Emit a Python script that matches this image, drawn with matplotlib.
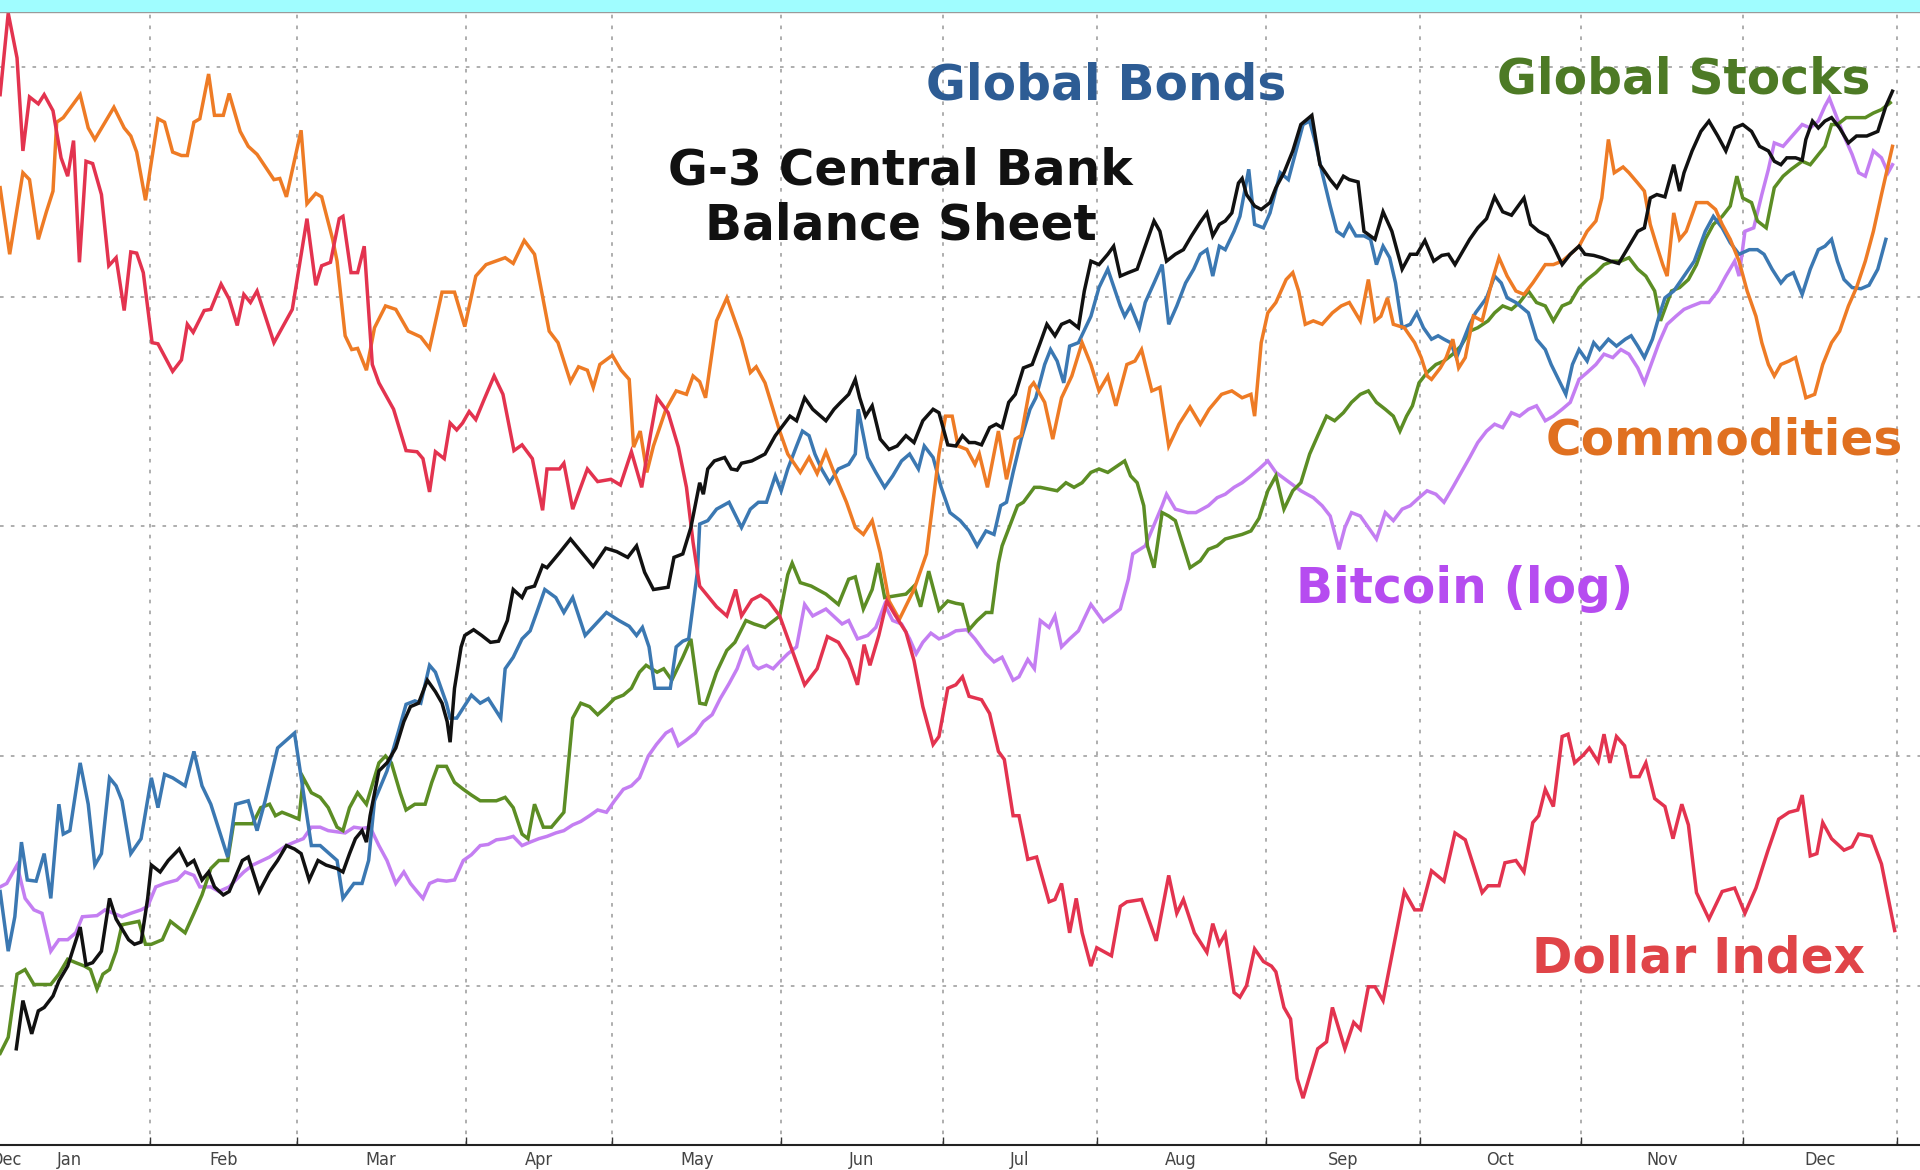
import numpy as np
import pandas as pd
import matplotlib
matplotlib.use('Agg')
import matplotlib.pyplot as plt
from matplotlib.patches import Rectangle

# x = trading day of 2017 (0 = 2 Jan), y = relative performance (grid every 20)
dollar = [(1.6,77.6),(2.7,84.7),(3.9,80.8),(4.7,72.7),(5.6,77.4),(6.8,76.8),(7.6,77.6),(8.8,76.2),(9.9,72.1),(10.8,70.5),(11.6,73.6),(12.4,63.0),(13.3,71.8),(14.2,71.6),(15.4,68.9),(16.4,62.7),(17.4,63.4),(18.5,58.8),(19.4,63.9),(20.2,63.8),(21.1,62.1),(22.3,56.0),(23.1,55.9),(25.1,53.5),(26.3,54.5),(27.1,57.6),(27.9,56.9),(29.4,58.8),(30.3,58.9),(31.7,61.1),(32.8,59.8),(33.9,57.5),(34.8,60.2),(35.7,59.5),(36.6,60.5),(38.9,56.0),(41.4,58.9),(43.4,66.8),(44.6,61.0),(45.4,62.7),(46.6,63.0),(47.8,66.8),(48.3,67.0),(49.4,62.1),(50.3,62.1),(51.2,64.4),(52.3,54.1),(53.2,52.5),(55.2,50.2),(56.9,46.6),(58.4,46.5),(59.2,45.9),(60.1,43.0),(60.9,46.5),(62.1,45.9),(62.9,49.0),(63.8,48.4),(64.6,49.0),(65.5,50.0),(66.4,49.3),(67.5,51.0),(68.9,53.1),(70.1,51.5),(71.6,46.6),(72.7,47.1),(74.1,45.9),(75.5,41.4),(76.1,45.0),(77.8,45.0),(78.4,45.5),(79.6,41.5),(81.6,45.0),(83.0,43.9),(84.8,44.1),(86.1,43.6),(87.6,46.5),(89.0,43.4),(90.2,48.0),(91.1,51.2),(92.6,49.9),(94.0,46.9),(95.1,43.4),(96.0,38.6),(96.9,34.8),(99.2,33.0),(100.6,32.2),(101.8,34.5),(102.6,32.2),(104.0,33.6),(105.2,34.0),(106.3,33.5),(107.8,32.2),(109.5,29.2),(111.2,26.2),(112.9,27.6),(114.3,30.4),(115.8,29.9),(117.2,28.4),(118.4,26.2),(119.3,29.7),(120.1,27.9),(121.3,30.5),(122.4,33.5),(123.5,32.3),(125.0,30.8),(126.1,28.3),(127.3,24.3),(128.7,21.0),(129.5,21.7),(130.7,25.9),(131.8,26.2),(132.7,26.9),(133.6,25.2),(135.3,24.9),(136.4,23.7),(137.6,20.4),(138.4,19.7),(139.6,14.8),(140.4,14.8),(141.6,11.0),(142.8,11.2),(144.5,7.3),(145.3,7.5),(146.2,8.9),(147.3,4.6),(148.2,7.6),(149.0,4.6),(150.2,1.7),(151.0,3.3),(153.0,2.6),(154.2,6.9),(155.1,7.3),(157.1,7.5),(159.1,3.9),(160.8,9.6),(161.9,6.3),(162.8,7.5),(164.3,4.6),(166.0,2.9),(166.8,5.4),(167.7,3.6),(168.5,4.5),(169.7,-0.6),(170.5,-1.0),(171.4,0.0),(172.5,3.2),(173.7,2.1),(174.8,1.7),(175.4,1.2),(176.5,-1.9),(177.4,-2.9),(178.3,-8.1),(179.1,-9.8),(181.1,-5.5),(182.3,-4.9),(183.1,-1.9),(184.8,-5.5),(186.0,-3.2),(186.9,-3.8),(188.0,-0.1),(188.9,-0.1),(190.0,-1.3),(191.4,3.3),(192.9,8.2),(194.3,6.6),(195.2,6.6),(196.6,10.0),(198.3,9.1),(199.8,13.3),(201.2,12.7),(203.5,8.1),(204.3,8.7),(205.8,8.7),(206.6,10.7),(208.1,10.9),(209.2,9.9),(210.4,14.2),(211.2,14.8),(212.1,17.1),(213.2,15.6),(214.4,21.7),(215.2,21.9),(216.1,19.4),(217.3,20.1),(218.1,20.7),(219.3,19.5),(220.1,21.9),(220.9,19.4),(221.8,21.7),(222.9,20.9),(223.8,18.2),(224.9,18.2),(225.8,19.4),(227.0,16.3),(228.4,15.6),(229.5,12.8),(230.7,15.8),(231.6,14.0),(232.7,8.1),(234.4,5.8),(236.2,8.2),(237.9,8.5),(239.3,6.3),(240.8,8.5),(242.4,11.7),(243.9,14.5),(245.3,15.1),(246.5,15.3),(247.1,16.6),(248.2,11.3),(249.1,11.5),(249.9,14.2),(251.1,12.8),(252.8,11.8),(253.9,12.1),(254.8,13.2),(256.5,13.0),(257.9,10.6),(259.7,4.8)]

commodities = [(1.6,69.5),(2.9,63.7),(4.7,70.8),(5.6,70.2),(6.8,65.0),(7.9,67.4),(8.8,69.2),(9.3,75.2),(10.2,75.6),(12.5,77.6),(13.6,74.7),(14.5,73.7),(17.1,76.5),(18.5,74.7),(19.4,74.0),(20.2,72.6),(21.4,68.4),(23.1,75.5),(24.0,75.2),(25.1,72.6),(26.3,72.3),(27.1,72.3),(28.0,75.2),(28.8,75.5),(30.0,79.4),(30.8,75.8),(32.0,75.8),(32.8,77.7),(34.3,74.4),(35.4,73.1),(36.6,72.4),(38.9,70.2),(39.7,70.3),(40.6,68.7),(42.6,74.5),(43.4,68.1),(44.6,69.0),(45.4,68.7),(46.9,65.0),(47.5,63.1),(48.6,56.6),(49.5,55.4),(50.3,55.5),(51.5,53.6),(52.6,57.3),(54.1,59.2),(55.5,58.9),(57.2,57.0),(58.9,56.5),(60.1,55.5),(61.8,60.4),(63.5,60.4),(64.9,57.4),(66.4,61.8),(67.8,62.8),(70.4,63.4),(71.5,62.9),(73.0,64.9),(74.4,63.7),(76.4,57.0),(77.6,56.0),(79.3,52.6),(80.4,53.9),(81.6,53.6),(82.4,52.1),(83.3,54.1),(85.0,54.9),(86.2,53.6),(87.3,52.8),(87.9,46.9),(88.8,48.3),(89.7,44.7),(90.6,47.0),(92.3,50.2),(93.7,51.8),(95.1,51.5),(96.0,53.1),(96.9,52.6),(97.7,51.2),(99.2,57.9),(100.6,59.9),(102.6,56.3),(103.8,53.4),(104.6,53.9),(105.8,52.5),(107.8,48.3),(108.9,46.3),(110.6,44.7),(111.8,46.0),(112.9,44.6),(114.1,46.5),(115.2,44.7),(116.9,42.1),(118.1,39.9),(119.2,39.3),(120.4,40.5),(121.5,37.7),(122.7,33.5),(124.1,31.9),(126.1,34.5),(127.8,37.6),(129.5,46.3),(130.4,49.6),(131.3,49.6),(132.1,47.0),(133.3,46.7),(134.4,45.4),(135.0,46.3),(136.1,43.4),(137.6,48.3),(138.7,44.1),(139.9,47.6),(140.7,47.9),(141.9,52.1),(142.4,52.5),(143.9,50.8),(145.0,47.6),(146.2,51.2),(147.6,53.1),(149.0,56.0),(150.2,54.1),(151.3,51.8),(152.5,53.1),(153.6,50.5),(155.1,54.1),(156.2,54.4),(157.1,55.4),(158.5,51.8),(159.6,52.1),(160.8,47.0),(162.2,48.9),(163.7,50.4),(165.1,48.9),(166.3,50.2),(168.0,51.5),(169.4,51.8),(170.8,51.2),(172.0,51.5),(172.5,49.6),(173.4,56.0),(174.3,58.6),(175.4,59.5),(176.8,61.5),(177.7,62.1),(178.5,60.5),(179.4,57.6),(180.5,57.9),(181.7,57.6),(183.1,58.6),(184.3,59.2),(185.4,59.5),(186.9,57.9),(188.0,61.5),(188.9,57.9),(189.7,58.3),(190.6,59.9),(191.4,57.6),(192.9,57.3),(194.3,56.0),(195.2,54.7),(196.0,53.1),(196.6,52.8),(197.8,53.8),(198.6,54.7),(199.5,56.3),(200.3,53.8),(201.2,54.7),(202.3,58.3),(203.5,57.9),(204.9,61.5),(205.8,63.4),(206.9,61.8),(208.1,60.5),(209.2,60.2),(210.4,61.2),(212.1,62.8),(213.2,62.8),(214.4,63.1),(215.5,63.7),(216.7,64.4),(217.8,65.7),(219.0,66.6),(219.8,68.6),(220.7,73.7),(221.5,70.8),(222.7,71.3),(223.5,70.8),(224.7,69.9),(225.6,69.2),(226.4,66.3),(227.3,64.4),(228.1,62.8),(228.7,61.8),(229.6,67.3),(230.4,65.0),(231.3,65.7),(232.7,68.2),(234.2,68.2),(235.3,67.6),(236.2,66.3),(237.3,65.0),(238.5,63.1),(239.6,60.5),(240.8,58.3),(241.6,56.0),(242.5,54.1),(243.3,53.1),(244.2,54.1),(245.3,54.4),(246.2,54.7),(247.1,52.5),(247.6,51.2),(248.8,51.5),(249.9,54.1),(251.1,56.0),(252.2,57.0),(253.4,59.2),(254.5,60.8),(255.7,63.1),(256.8,65.7),(257.9,68.9),(259.4,73.1)]

balance_sheet = [(3.8,-5.5),(4.7,-1.3),(5.9,-4.2),(6.8,-2.2),(7.6,-1.9),(8.8,-0.9),(9.6,0.4),(10.8,1.7),(12.5,5.1),(13.3,1.8),(14.2,2.0),(15.4,3.0),(16.5,7.6),(17.4,5.8),(19.1,4.0),(19.9,3.6),(20.8,3.8),(21.7,7.6),(22.2,10.5),(23.4,9.9),(24.5,10.9),(26.0,11.9),(27.1,10.5),(28.0,10.9),(29.1,9.2),(30.0,9.9),(30.8,8.6),(32.0,7.9),(32.8,8.2),(34.6,10.9),(35.4,11.2),(36.9,8.2),(38.3,9.9),(39.4,10.9),(40.6,12.2),(41.7,11.9),(42.6,11.5),(43.7,9.2),(44.9,10.9),(46.0,10.5),(47.5,10.2),(48.3,9.9),(49.2,11.5),(50.0,12.8),(50.9,13.5),(51.5,12.5),(52.0,14.8),(53.2,18.7),(54.3,19.4),(55.5,20.7),(56.6,23.0),(57.5,24.3),(58.6,24.6),(59.8,26.6),(60.9,25.6),(61.8,24.6),(62.5,23.0),(62.9,21.2),(63.5,25.9),(64.4,29.5),(64.9,30.5),(66.1,31.0),(67.2,30.5),(68.4,29.9),(69.5,30.0),(70.7,31.8),(71.5,34.5),(72.7,33.8),(73.3,34.6),(74.4,34.8),(75.5,36.6),(76.1,36.4),(77.8,37.7),(79.3,38.9),(82.4,36.5),(84.1,38.1),(85.6,37.8),(87.1,37.3),(88.3,38.3),(89.4,36.0),(90.6,34.5),(92.6,34.7),(93.4,37.3),(94.6,37.6),(95.7,39.9),(96.9,43.8),(97.4,42.8),(98.0,45.0),(98.9,45.7),(100.3,46.0),(101.2,45.0),(102.0,44.9),(102.6,45.5),(104.0,45.7),(105.8,46.3),(107.2,47.9),(109.2,49.6),(110.1,49.2),(111.2,51.2),(112.3,50.2),(114.1,49.2),(115.2,50.2),(116.1,50.8),(117.2,51.5),(118.1,52.8),(118.7,51.2),(119.5,49.6),(120.4,50.5),(121.5,47.6),(122.7,46.7),(123.8,47.0),(125.0,47.9),(126.1,47.3),(127.3,49.2),(128.7,50.2),(129.5,49.9),(130.7,47.1),(131.8,47.0),(132.7,47.9),(133.6,47.3),(134.4,47.3),(135.3,47.1),(136.4,48.6),(137.3,48.9),(138.1,48.6),(139.0,50.8),(139.9,51.5),(141.0,53.8),(142.2,54.1),(143.3,56.0),(144.2,57.6),(145.3,56.6),(146.2,57.6),(147.3,57.9),(148.5,57.3),(149.3,60.5),(150.2,63.1),(151.3,62.8),(152.5,63.7),(153.3,64.4),(154.2,61.8),(155.3,62.1),(156.5,62.4),(157.6,64.4),(158.8,66.6),(159.6,65.7),(160.5,63.1),(161.7,63.7),(162.8,64.1),(163.9,65.3),(165.1,66.5),(166.0,67.3),(166.8,65.3),(167.7,66.3),(168.5,66.6),(169.4,67.3),(170.3,69.9),(170.8,70.3),(171.4,68.9),(172.5,67.9),(173.4,67.6),(174.6,68.2),(175.4,69.5),(176.5,70.8),(177.7,72.7),(178.8,75.0),(180.3,75.8),(181.4,71.5),(182.8,70.2),(183.7,69.5),(184.6,70.5),(185.4,70.2),(186.6,70.0),(187.4,65.7),(188.9,65.0),(190.0,67.4),(191.2,65.7),(192.6,62.4),(193.7,63.7),(194.6,63.7),(195.7,64.9),(196.9,63.1),(198.0,63.6),(198.9,63.7),(199.8,62.8),(201.8,65.0),(202.9,66.0),(204.1,66.8),(205.2,68.7),(206.3,67.4),(207.5,67.1),(209.2,68.6),(210.1,66.3),(211.2,65.7),(212.4,65.3),(213.2,64.4),(214.4,62.8),(215.5,63.7),(216.7,64.4),(217.5,63.7),(218.7,63.6),(219.8,63.4),(221.0,63.1),(222.1,62.9),(223.5,64.4),(224.7,65.7),(225.6,66.0),(226.4,68.6),(227.3,68.9),(228.4,68.7),(229.6,71.5),(230.4,69.2),(231.0,70.8),(232.1,72.7),(233.3,74.4),(234.4,75.3),(235.6,74.0),(236.7,72.7),(237.9,74.7),(239.0,75.0),(240.2,74.4),(241.3,73.1),(242.5,72.7),(243.3,71.8),(244.2,71.5),(245.0,72.1),(246.2,72.1),(247.1,71.9),(247.6,73.7),(248.5,75.3),(249.3,74.7),(250.2,75.3),(251.1,75.6),(252.2,74.7),(253.4,73.4),(254.5,74.0),(255.9,74.0),(257.4,74.4),(258.5,76.6),(259.4,77.9)]

bonds = [(1.6,8.2),(2.7,3.0),(3.6,6.0),(4.5,12.5),(5.3,9.2),(6.5,9.1),(7.6,11.5),(8.5,7.6),(9.6,15.8),(10.2,13.2),(11.1,13.5),(12.5,19.4),(13.6,15.8),(14.5,10.5),(15.4,11.5),(16.5,18.1),(17.4,17.4),(18.2,16.1),(19.4,11.5),(20.8,12.8),(22.2,18.1),(23.1,15.5),(24.0,18.4),(25.1,18.1),(26.8,17.4),(28.0,20.4),(29.1,17.4),(30.3,15.8),(32.6,11.2),(33.7,15.8),(35.4,16.1),(36.6,13.5),(37.7,16.1),(39.4,20.7),(41.7,22.0),(43.4,14.8),(44.0,12.2),(45.2,12.2),(47.5,10.9),(48.3,7.6),(49.8,8.9),(50.9,8.9),(51.8,10.9),(52.6,16.1),(54.3,18.7),(55.8,22.0),(56.9,24.5),(58.1,24.8),(58.9,24.6),(60.1,27.9),(60.9,27.3),(62.4,24.6),(62.9,23.3),(63.8,23.3),(65.8,25.3),(67.0,24.6),(68.1,25.0),(69.8,23.3),(70.4,27.6),(71.5,28.6),(72.7,30.2),(73.8,30.9),(74.7,32.5),(75.8,34.5),(77.3,33.8),(78.4,32.5),(79.6,33.8),(81.3,30.5),(84.2,32.5),(85.9,31.8),(87.3,31.3),(88.3,30.5),(89.1,31.2),(90.0,29.5),(90.8,25.9),(92.9,25.9),(93.7,29.5),(94.6,30.0),(95.4,30.2),(96.6,36.1),(96.9,40.2),(98.0,40.5),(99.2,41.5),(100.9,42.1),(102.6,39.9),(103.8,41.5),(104.9,42.1),(106.0,42.1),(107.2,44.4),(108.0,43.1),(108.9,45.0),(110.1,47.0),(110.9,48.3),(111.8,47.9),(112.6,46.3),(113.5,45.0),(114.6,43.8),(115.8,45.0),(117.2,45.4),(118.1,46.3),(118.5,50.2),(119.8,46.0),(120.9,44.7),(122.1,43.4),(123.2,44.4),(124.4,45.7),(125.5,46.3),(126.7,45.0),(127.5,47.0),(128.7,46.0),(129.8,43.4),(131.0,41.2),(132.4,40.5),(133.6,39.6),(134.7,38.3),(135.9,39.6),(137.0,39.3),(137.9,41.8),(138.7,42.1),(139.6,44.7),(140.7,47.6),(141.9,50.2),(142.7,51.2),(143.9,54.1),(144.7,55.4),(145.6,54.4),(146.5,52.5),(147.3,55.7),(148.5,56.0),(150.2,58.3),(151.3,60.8),(152.5,62.4),(154.2,59.2),(154.8,58.3),(155.6,59.2),(156.8,57.3),(157.6,59.5),(158.8,61.2),(159.9,62.8),(160.8,57.6),(161.9,59.2),(163.1,61.2),(164.2,62.4),(165.1,63.7),(166.0,64.1),(166.8,61.8),(167.7,64.4),(168.5,64.1),(169.7,65.7),(170.5,67.0),(171.7,71.1),(172.5,66.3),(173.7,66.0),(174.6,67.3),(176.0,70.8),(177.1,70.2),(178.3,73.1),(179.1,75.0),(180.0,75.3),(180.8,73.4),(181.7,70.8),(182.8,67.9),(183.7,65.7),(184.6,65.3),(185.4,66.3),(186.3,65.3),(187.4,65.3),(188.3,65.0),(189.1,62.8),(190.0,64.4),(190.9,63.4),(191.7,61.2),(192.6,57.3),(193.7,57.6),(194.6,58.6),(195.5,57.3),(196.6,56.3),(197.5,56.6),(198.3,56.3),(199.2,56.0),(200.0,54.7),(201.8,57.6),(202.6,58.6),(204.1,59.9),(205.2,61.8),(206.1,61.2),(206.9,59.9),(208.1,59.5),(209.8,58.6),(210.9,56.3),(212.1,55.4),(212.9,54.1),(214.9,51.5),(215.8,54.1),(216.7,55.4),(217.8,54.4),(218.7,56.0),(219.5,55.4),(220.7,56.3),(221.8,55.7),(223.0,56.3),(223.8,56.6),(224.7,55.7),(225.6,54.7),(226.7,56.3),(227.6,58.3),(228.4,59.9),(229.6,60.5),(231.0,61.8),(232.4,63.1),(233.9,65.7),(235.0,67.0),(236.2,66.0),(237.3,64.7),(238.5,63.7),(239.9,64.1),(241.0,64.1),(241.9,63.7),(243.0,62.4),(244.2,61.2),(245.0,61.8),(245.9,62.1),(247.1,60.2),(248.2,62.4),(249.3,64.1),(250.2,64.4),(251.1,65.0),(251.9,63.1),(252.8,61.5),(253.9,60.8),(255.1,60.7),(256.2,61.0),(257.4,62.4),(258.5,65.0)]

stocks = [(1.6,-5.9),(2.7,-4.5),(3.9,1.0),(5.0,1.4),(6.2,0.1),(8.5,0.1),(9.6,1.0),(10.8,2.3),(11.9,2.0),(13.1,1.7),(13.9,1.4),(14.8,-0.3),(15.6,1.0),(16.5,1.4),(17.4,3.0),(18.2,5.3),(20.5,5.6),(21.4,3.6),(22.2,3.6),(23.7,4.0),(24.8,5.6),(26.8,4.6),(28.0,6.3),(29.1,7.9),(30.3,10.2),(31.4,10.9),(32.6,10.9),(33.4,14.1),(34.8,14.1),(36.0,14.1),(37.1,15.5),(38.3,15.8),(39.1,14.8),(40.0,15.1),(41.2,14.8),(42.3,14.5),(42.9,18.1),(44.0,16.8),(45.2,16.4),(46.3,15.5),(47.5,13.8),(48.3,13.5),(49.2,15.5),(50.3,16.8),(51.5,15.8),(53.2,19.4),(54.1,20.0),(54.9,19.4),(56.1,16.8),(56.9,15.3),(58.1,15.8),(59.5,15.8),(60.4,17.7),(61.2,19.1),(62.4,19.1),(63.5,17.7),(64.7,17.1),(65.8,16.6),(67.0,16.1),(69.2,16.1),(70.4,16.4),(71.5,15.5),(72.7,13.2),(73.5,12.8),(74.4,15.8),(75.6,13.8),(76.7,13.8),(78.4,15.1),(79.6,23.3),(80.7,24.6),(81.9,24.3),(83.0,23.6),(84.2,24.3),(85.3,25.0),(86.5,25.3),(87.6,25.9),(88.7,27.3),(89.6,27.9),(91.1,27.3),(92.0,27.6),(93.1,26.6),(94.6,28.6),(95.7,30.2),(96.9,24.6),(97.7,24.5),(99.2,27.3),(100.6,29.2),(101.7,29.9),(103.2,31.8),(104.3,31.5),(105.8,31.2),(107.8,32.2),(108.9,35.8),(109.5,36.8),(110.6,35.1),(112.1,34.8),(114.1,34.1),(115.8,33.2),(117.2,35.4),(118.1,35.6),(119.2,32.8),(120.4,34.5),(121.2,36.8),(122.1,33.8),(125.0,34.1),(126.1,34.8),(127.0,33.0),(128.1,36.1),(129.5,32.7),(130.7,33.5),(131.8,33.3),(132.7,33.2),(133.6,31.0),(134.7,31.8),(135.9,32.5),(136.7,32.5),(137.6,36.8),(138.1,38.3),(140.2,41.8),(141.0,42.1),(142.5,43.4),(143.3,43.4),(145.6,43.1),(146.8,43.8),(147.9,43.4),(149.0,43.8),(150.2,44.7),(151.3,45.0),(152.5,44.7),(154.8,45.7),(155.6,44.4),(156.5,43.8),(157.4,41.8),(157.9,38.3),(158.8,36.4),(159.9,41.2),(160.8,40.9),(161.7,40.5),(163.7,36.4),(165.1,37.0),(166.2,38.0),(167.4,38.3),(168.5,38.9),(170.8,39.3),(172.0,39.6),(173.1,40.7),(174.3,43.1),(175.4,44.4),(176.5,41.5),(177.7,43.1),(178.8,43.8),(180.0,46.3),(181.1,47.9),(182.3,49.6),(183.4,49.2),(184.6,49.9),(185.7,50.8),(186.9,51.5),(188.0,51.8),(189.1,50.8),(190.3,50.2),(191.4,49.6),(192.3,48.3),(193.2,49.6),(194.0,50.5),(194.9,52.5),(196.0,53.4),(197.2,54.1),(198.3,54.4),(199.5,55.0),(200.6,55.7),(201.8,57.0),(202.9,57.3),(204.3,57.9),(205.2,58.6),(206.3,59.2),(207.5,58.9),(208.6,59.5),(209.8,60.5),(210.9,59.5),(212.1,59.2),(213.2,57.9),(214.4,59.2),(215.5,59.5),(216.7,60.8),(217.8,61.5),(219.0,62.1),(220.1,62.8),(221.3,63.1),(222.4,63.1),(223.5,63.4),(224.7,62.4),(225.8,61.8),(227.0,60.5),(227.8,57.9),(229.3,60.5),(230.4,60.8),(231.6,61.5),(232.7,62.8),(233.9,65.0),(235.0,66.3),(236.2,67.0),(237.3,67.9),(238.2,70.5),(239.0,68.6),(240.2,68.2),(241.0,66.6),(242.2,66.0),(243.3,69.5),(244.5,70.5),(245.6,71.1),(247.1,71.8),(248.2,71.5),(250.2,73.1),(251.1,75.0),(251.9,75.0),(253.1,75.6),(254.2,75.6),(255.7,75.6),(256.8,76.0),(257.9,76.3),(259.1,76.9)]

bitcoin = [(1.6,8.6),(2.5,8.9),(3.9,10.5),(5.0,7.6),(6.2,6.6),(7.3,6.3),(8.5,3.0),(9.6,4.0),(10.8,4.0),(11.9,4.6),(12.8,6.0),(14.8,6.1),(15.9,6.6),(18.2,6.0),(19.4,6.3),(20.8,6.6),(21.7,6.9),(22.8,8.6),(24.0,8.9),(25.7,9.2),(26.8,9.9),(28.0,9.6),(28.8,8.6),(30.3,8.6),(31.4,8.2),(32.8,8.6),(33.7,9.2),(34.8,9.9),(36.0,10.5),(38.3,11.2),(40.6,12.2),(41.7,12.5),(42.9,12.8),(44.0,13.8),(45.2,13.8),(46.3,13.5),(48.6,13.3),(49.8,13.8),(50.9,13.7),(52.0,13.8),(53.2,12.2),(54.3,10.9),(55.5,8.9),(56.6,9.9),(57.5,8.9),(58.4,8.2),(59.2,7.6),(60.1,8.9),(61.2,9.2),(62.4,9.1),(63.5,9.2),(64.7,10.9),(65.8,11.4),(67.0,12.2),(68.1,12.3),(69.2,12.7),(70.4,12.8),(71.5,13.0),(72.7,12.2),(73.8,12.5),(75.0,12.8),(76.1,13.0),(77.3,13.3),(78.4,13.5),(79.6,14.0),(80.7,14.3),(81.9,14.8),(83.0,15.3),(84.2,15.1),(85.3,16.1),(86.5,17.1),(87.6,17.4),(88.7,18.1),(89.9,20.0),(91.0,21.0),(92.3,22.0),(93.1,22.3),(94.0,20.9),(95.1,21.4),(96.3,22.0),(97.4,23.0),(98.6,23.6),(99.7,25.0),(100.9,26.3),(102.0,27.6),(102.9,29.2),(103.4,29.5),(104.3,27.9),(104.9,27.6),(106.0,27.9),(106.9,27.6),(107.8,28.2),(108.9,28.9),(110.1,29.5),(111.2,33.2),(112.3,32.2),(114.1,32.8),(116.3,31.5),(117.2,31.8),(118.4,30.2),(119.8,30.5),(120.9,31.2),(122.1,33.2),(123.2,31.8),(124.4,31.5),(125.5,30.2),(126.4,28.9),(127.3,29.9),(128.4,30.7),(129.5,30.2),(130.7,30.5),(131.8,30.9),(133.3,31.0),(134.4,30.2),(135.9,28.9),(137.0,28.2),(138.1,28.6),(139.6,26.6),(140.4,26.9),(141.6,28.4),(142.5,27.6),(143.3,31.8),(144.5,31.2),(145.3,32.2),(146.2,29.5),(147.3,30.2),(148.5,30.9),(150.2,33.2),(151.9,31.7),(153.0,32.2),(154.2,32.8),(155.3,35.4),(155.9,37.6),(157.6,38.3),(159.9,41.8),(160.5,42.8),(161.7,41.5),(163.4,41.2),(164.5,41.2),(166.2,41.8),(167.4,42.5),(168.5,42.8),(169.7,43.4),(170.8,43.8),(172.0,44.4),(173.1,45.0),(174.3,45.7),(175.4,44.7),(178.8,43.1),(180.5,42.5),(181.7,41.8),(182.8,40.9),(184.0,38.0),(184.8,39.9),(185.7,41.2),(186.9,40.9),(189.1,38.9),(190.3,41.2),(191.4,40.5),(192.6,41.5),(193.7,41.8),(194.9,42.5),(196.0,43.1),(197.2,42.8),(198.3,42.1),(199.5,43.4),(201.8,46.0),(202.9,47.3),(204.1,48.3),(205.2,48.9),(206.3,48.6),(207.5,49.9),(208.6,49.6),(209.8,50.2),(210.9,50.5),(212.1,49.2),(213.2,49.6),(214.4,50.2),(215.5,50.8),(216.7,52.8),(217.8,53.4),(219.0,54.1),(220.1,55.0),(221.3,54.7),(222.4,55.4),(223.5,55.0),(224.7,53.8),(225.6,52.5),(227.6,56.0),(228.7,57.6),(229.9,58.3),(231.0,58.9),(232.1,59.2),(233.3,59.5),(234.4,59.5),(235.6,60.5),(236.7,61.8),(237.9,63.1),(238.5,61.8),(239.3,65.7),(240.5,66.0),(241.6,68.9),(242.5,71.1),(243.3,73.4),(244.5,73.1),(247.1,75.0),(248.2,74.7),(249.3,75.3),(250.2,76.6),(250.8,77.3),(252.8,74.0),(253.9,72.4),(254.8,70.8),(255.7,70.5),(256.8,72.7),(257.9,72.1),(258.8,70.8),(259.4,71.5)]

month_names = ['Dec', 'Jan', 'Feb', 'Mar', 'Apr', 'May', 'Jun',
               'Jul', 'Aug', 'Sep', 'Oct', 'Nov', 'Dec']

series = [
    (bitcoin, '#c47ef2'),
    (stocks, '#5c8d24'),
    (bonds, '#3b78b2'),
    (commodities, '#ee7b25'),
    (dollar, '#e3334f'),
    (balance_sheet, '#111111'),
]

# trading-day calendar for the axis
bdays = pd.bdate_range('2017-01-02', '2018-01-31')
month_key = bdays.year * 12 + bdays.month
starts = np.flatnonzero(np.r_[True, month_key[1:] != month_key[:-1]])
boundaries = starts[1:13]                       # Feb 2017 ... Jan 2018
centers = [(a + b) / 2 for a, b in zip(starts[:12], starts[1:13])]
label_pos = [2.4] + centers                     # previous Dec is cut at the left edge

fig = plt.figure(figsize=(19.2, 11.7), dpi=100)
ax = fig.add_axes([0, 25 / 1170, 1, 1133 / 1170])
fig.add_artist(Rectangle((0, 1158 / 1170), 1, 12 / 1170, transform=fig.transFigure,
                         facecolor='#a0fdff', edgecolor='none'))

for data, color in series:
    x, y = zip(*data)
    ax.plot(x, y, color=color, lw=2.5, solid_joinstyle='miter')

ax.set_xlim(1.58, 263.15)
ax.set_ylim(-13.88, 84.8)

ax.set_xticks(boundaries)
ax.set_xticks(label_pos, minor=True)
ax.set_xticklabels([])
ax.set_xticklabels(month_names, minor=True, fontsize=13, color='#444444',
                   fontstretch='condensed')
ax.tick_params(axis='x', which='major', direction='in', length=6, width=1, color='#333333')
ax.tick_params(axis='x', which='minor', length=0, pad=4)
ax.set_yticks([0, 20, 40, 60, 80])
ax.set_yticklabels([])
ax.tick_params(axis='y', length=0)

ax.grid(True, which='major', color='#a8a8a8', linestyle=(0, (2, 4)), lw=1.3)
ax.set_axisbelow(True)
for side in ['left', 'right']:
    ax.spines[side].set_visible(False)
ax.spines['top'].set_color('#9a9a9a')
ax.spines['top'].set_linewidth(1)
ax.spines['bottom'].set_color('#222222')
ax.spines['bottom'].set_linewidth(1.5)

label_style = dict(transform=ax.transAxes, ha='center', va='center',
                   fontsize=35, fontweight='bold', family='DejaVu Sans')
ax.text(0.576, 0.935, 'Global Bonds', color='#2d5c94', **label_style)
ax.text(0.469, 0.836, 'G-3 Central Bank\nBalance Sheet', color='#111111',
        linespacing=1.2, **label_style)
ax.text(0.877, 0.940, 'Global Stocks', color='#4d7a25', **label_style)
ax.text(0.898, 0.6215, 'Commodities', color='#e07020', **label_style)
ax.text(0.763, 0.4907, 'Bitcoin (log)', color='#b64cf0', **label_style)
ax.text(0.8846, 0.1643, 'Dollar Index', color='#e04448', **label_style)

fig.savefig('out.png', dpi=100)
